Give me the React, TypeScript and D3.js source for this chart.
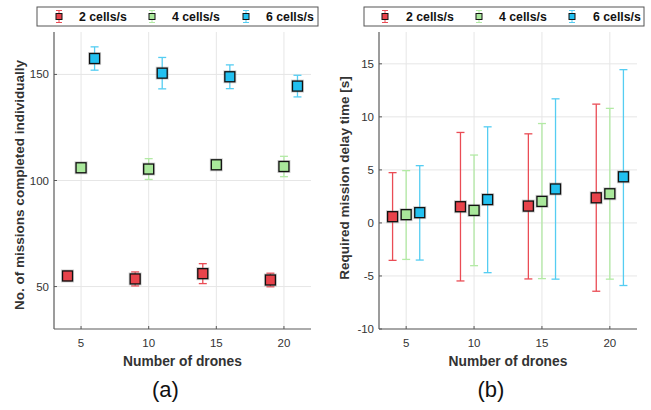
import React from "react";
import * as d3 from "d3";

const series = ["2 cells/s", "4 cells/s", "6 cells/s"];
const xOffsets = [-1, 0, 1];
const drones = [5, 10, 15, 20];

// Panel (a): missions completed individually (mean, +/- error)
const missionsMean = [
  [55, 53.6, 56.1, 53.1],
  [106, 105.4, 107.4, 106.6],
  [157.5, 150.6, 148.9, 144.5],
];
const missionsErr = [
  [2.2, 3.3, 4.7, 3.2],
  [1.2, 4.9, 2.1, 4.8],
  [5.5, 7.4, 5.6, 5.1],
];

// Panel (b): required mission delay time (mean, lower, upper)
const delayMean = [
  [0.59, 1.53, 1.59, 2.37],
  [0.78, 1.18, 2.03, 2.75],
  [0.97, 2.2, 3.2, 4.35],
];
const delayLow = [
  [-3.53, -5.47, -5.28, -6.44],
  [-3.44, -4.03, -5.25, -5.3],
  [-3.5, -4.69, -5.3, -5.9],
];
const delayHigh = [
  [4.74, 8.53, 8.4, 11.2],
  [4.93, 6.4, 9.37, 10.8],
  [5.4, 9.06, 11.7, 14.45],
];

const xTicks = [5, 10, 15, 20];
const yTicksA = [50, 100, 150];
const yTicksB = [-10, -5, 0, 5, 10, 15];

const fills = ["#e8434b", "#a9e89b", "#22c0f0"];
const barColors = ["#ea4c55", "#b3eaa5", "#55cdf2"];

const FONT = "'Liberation Sans', Arial, Helvetica, sans-serif";

type PanelProps = {
  left: number;
  right: number;
  top: number;
  bottom: number;
  yDomain: [number, number];
  yTicks: number[];
  mean: number[][];
  low: number[][];
  high: number[][];
  yLabel: string;
  yLabelX: number;
  yLabelY: number;
  legend: { x0: number; x1: number; icons: number[]; texts: number[] };
  caption: string;
};

function Panel(p: PanelProps) {
  const x = d3.scaleLinear().domain([3, 22]).range([p.left, p.right]);
  const y = d3.scaleLinear().domain(p.yDomain).range([p.bottom, p.top]);
  const axisColor = "#5a5a5a";
  const cx = (p.left + p.right) / 2;
  return (
    <g>
      {xTicks.map((t) => (
        <line key={"gx" + t} x1={x(t)} x2={x(t)} y1={p.top} y2={p.bottom} stroke="#e6e6e6" strokeWidth={1} />
      ))}
      {p.yTicks.map((t) => (
        <line key={"gy" + t} x1={p.left} x2={p.right} y1={y(t)} y2={y(t)} stroke="#e6e6e6" strokeWidth={1} />
      ))}
      <line x1={p.left} x2={p.left} y1={p.top} y2={p.bottom} stroke={axisColor} strokeWidth={1.2} />
      <line x1={p.left} x2={p.right} y1={p.bottom} y2={p.bottom} stroke={axisColor} strokeWidth={1.2} />
      {xTicks.map((t) => (
        <g key={"xt" + t}>
          <line x1={x(t)} x2={x(t)} y1={p.bottom} y2={p.bottom - 3} stroke={axisColor} />
          <text x={x(t)} y={p.bottom + 18} textAnchor="middle" fontSize={11.5} fill="#333" fontFamily={FONT}>
            {t}
          </text>
        </g>
      ))}
      {p.yTicks.map((t) => (
        <g key={"yt" + t}>
          <line x1={p.left} x2={p.left + 3} y1={y(t)} y2={y(t)} stroke={axisColor} />
          <text x={p.left - 5} y={y(t) + 4} textAnchor="end" fontSize={11.5} fill="#333" fontFamily={FONT}>
            {t}
          </text>
        </g>
      ))}
      {series.map((s, si) =>
        drones.map((d, di) => {
          const px = x(d + xOffsets[si]);
          const yl = y(p.low[si][di]);
          const yh = y(p.high[si][di]);
          const ym = y(p.mean[si][di]);
          const c = barColors[si];
          return (
            <g key={s + d}>
              <line x1={px} x2={px} y1={yl} y2={yh} stroke={c} strokeWidth={1.3} />
              <line x1={px - 4} x2={px + 4} y1={yl} y2={yl} stroke={c} strokeWidth={1.3} />
              <line x1={px - 4} x2={px + 4} y1={yh} y2={yh} stroke={c} strokeWidth={1.3} />
              <rect x={px - 6.5} y={ym - 6.5} width={13} height={13} fill="#777" opacity={0.35} />
              <rect x={px - 5} y={ym - 5} width={10} height={10} fill={fills[si]} stroke="#111" strokeWidth={1.3} />
            </g>
          );
        })
      )}
      <text x={cx} y={p.bottom + 37} textAnchor="middle" fontSize={13.8} fontWeight="bold" fill="#333" fontFamily={FONT}>
        Number of drones
      </text>
      <text
        transform={`translate(${p.yLabelX},${p.yLabelY}) rotate(-90)`}
        textAnchor="middle"
        dominantBaseline="middle"
        fontSize={13.5}
        fontWeight="bold"
        fill="#333"
        fontFamily={FONT}
      >
        {p.yLabel}
      </text>
      <text x={cx - 17} y={397} textAnchor="middle" fontSize={22} fill="#111" fontFamily={FONT}>
        {p.caption}
      </text>
      <rect x={p.legend.x0} y={7} width={p.legend.x1 - p.legend.x0} height={19} fill="#fff" stroke="#555" strokeWidth={1} />
      {series.map((s, si) => {
        const ix = p.legend.icons[si];
        const c = barColors[si];
        return (
          <g key={"lg" + s}>
            <line x1={ix} x2={ix} y1={10.5} y2={22.5} stroke={c} strokeWidth={1} />
            <line x1={ix - 3} x2={ix + 3} y1={10.5} y2={10.5} stroke={c} strokeWidth={1} />
            <line x1={ix - 3} x2={ix + 3} y1={22.5} y2={22.5} stroke={c} strokeWidth={1} />
            <rect x={ix - 3} y={13.5} width={6} height={6} fill={fills[si]} stroke="#111" strokeWidth={1} />
            <text x={p.legend.texts[si]} y={21} fontSize={12.3} fontWeight="bold" fill="#111" fontFamily={FONT}>
              {s}
            </text>
          </g>
        );
      })}
    </g>
  );
}

export default function App() {
  const lowA = missionsMean.map((r, i) => r.map((v, j) => v - missionsErr[i][j]));
  const highA = missionsMean.map((r, i) => r.map((v, j) => v + missionsErr[i][j]));
  return (
    <svg width={651} height={410} style={{ position: "absolute", left: 0, top: 0, background: "#fff" }}>
      <rect width={651} height={410} fill="#fff" />
      <Panel
        left={54}
        right={311}
        top={32}
        bottom={329}
        yDomain={[30, 170]}
        yTicks={yTicksA}
        mean={missionsMean}
        low={lowA}
        high={highA}
        yLabel="No. of missions completed individually"
        yLabelX={20}
        yLabelY={185}
        legend={{ x0: 37, x1: 318, icons: [59, 152, 246], texts: [79, 172, 266] }}
        caption="(a)"
      />
      <Panel
        left={379}
        right={637}
        top={32}
        bottom={329}
        yDomain={[-10, 18]}
        yTicks={yTicksB}
        mean={delayMean}
        low={delayLow}
        high={delayHigh}
        yLabel="Required mission delay time [s]"
        yLabelX={345}
        yLabelY={178}
        legend={{ x0: 364, x1: 644, icons: [385, 479, 572], texts: [406, 499, 593] }}
        caption="(b)"
      />
    </svg>
  );
}
